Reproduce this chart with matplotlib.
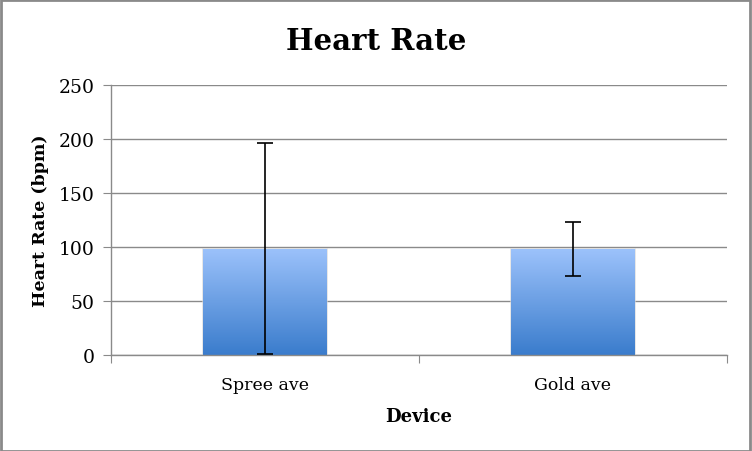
import numpy as np
import matplotlib
matplotlib.use("Agg")
import matplotlib.pyplot as plt
from matplotlib.colors import LinearSegmentedColormap
from matplotlib.patches import Rectangle

categories = ["Spree ave", "Gold ave"]
means = [98.5, 97.8]
errors = [98.0, 25.0]
yticks = [0, 50, 100, 150, 200, 250]

plt.rcParams['font.family'] = ['DejaVu Serif']

fig = plt.figure(figsize=(7.52, 4.52), dpi=100)
ax = fig.add_axes([111/752, 96/452, 616/752, 270/452])

x = np.arange(len(categories))
bars = ax.bar(x, means, width=0.4, color='none', edgecolor='none', zorder=2)

cmap = LinearSegmentedColormap.from_list('g', ['#3a7ccc', '#9cc2fb'])
grad = np.linspace(0, 1, 256).reshape(-1, 1)
for b in bars:
    x0, y0, w, h = b.get_x(), b.get_y(), b.get_width(), b.get_height()
    sh = Rectangle((x0 - 0.006, y0), w + 0.012, h + 1.0, facecolor='#d8d8d8',
                   edgecolor='none', zorder=1.5, alpha=0.6)
    ax.add_patch(sh)
    im = ax.imshow(grad, extent=[x0, x0 + w, y0, y0 + h], origin='lower',
                   cmap=cmap, aspect='auto', zorder=2)
    im.set_clip_path(b)

ax.errorbar(x, means, yerr=errors, fmt='none', ecolor='black', elinewidth=1.2,
            capsize=6, capthick=1.2, zorder=3)

ax.set_xlim(-0.5, 1.5)
ax.set_ylim(0, 250)
ax.set_yticks(yticks)
ax.set_yticklabels([str(v) for v in yticks], fontsize=13.5)
ax.yaxis.grid(True, color='#8a8a8a', linewidth=1.0, zorder=0)
ax.set_axisbelow(True)

ax.set_xticks([-0.5, 0.5, 1.5])
ax.set_xticklabels([])
ax.set_xticks(x, minor=True)
ax.set_xticklabels(categories, minor=True, fontsize=12.5)
ax.tick_params(axis='x', which='minor', length=0, pad=15)
ax.tick_params(axis='x', which='major', length=6, color='#8a8a8a', direction='out')
ax.tick_params(axis='y', length=6, color='#8a8a8a', direction='out', pad=6)

for s in ['top', 'right']:
    ax.spines[s].set_visible(False)
for s in ['left', 'bottom']:
    ax.spines[s].set_color('#8a8a8a')
    ax.spines[s].set_linewidth(1.0)

ax.set_ylabel('Heart Rate (bpm)', fontsize=12.5, fontweight='bold', labelpad=7)
ax.set_xlabel('Device', fontsize=13, fontweight='bold', labelpad=10)
fig.text(0.5, 1 - 41/452, 'Heart Rate', ha='center', va='center',
         fontsize=21, fontweight='bold')

border = Rectangle((0.001, 0.001), 0.997, 0.997, transform=fig.transFigure,
                   fill=False, edgecolor='#8a8a8a', linewidth=2)
fig.patches.append(border)

fig.savefig('out.png', dpi=100)
